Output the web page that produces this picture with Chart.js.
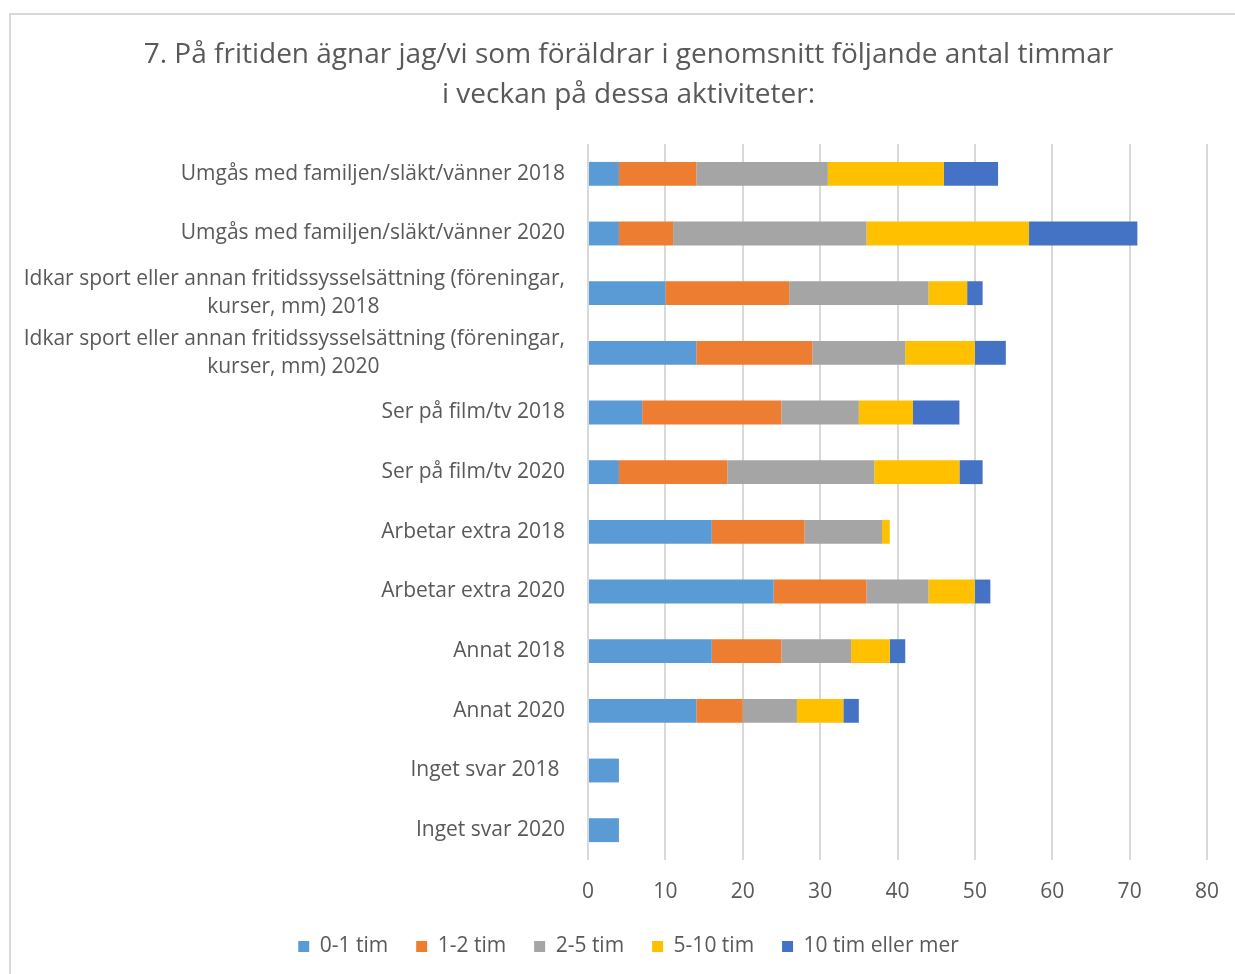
<!DOCTYPE html>
<html>
<head>
<meta charset="utf-8">
<script src="https://cdn.jsdelivr.net/npm/chart.js@4.4.1/dist/chart.umd.min.js"></script>
<style>
  html, body { margin: 0; padding: 0; background: #fff; }
  #wrap { position: relative; width: 1235px; height: 974px; overflow: hidden; }
  #frame { position: absolute; left: 9px; top: 13px; width: 1400px; height: 1200px;
           border-left: 2px solid #d9d9d9; border-top: 2px solid #d9d9d9; }
  canvas { position: absolute; left: 0; top: 0; }
</style>
</head>
<body>
<div id="wrap">
  <div id="frame"></div>
  <canvas id="chart" width="1235" height="974"></canvas>
</div>
<script>
const FONT = '"Open Sans", "Noto Sans", sans-serif';
const TEXT_COLOR = '#595959';

const titleLines = [
    '7. På fritiden ägnar jag/vi som föräldrar i genomsnitt följande antal timmar',
    'i veckan på dessa aktiviteter:'
];

const categories = [
    'Umgås med familjen/släkt/vänner 2018',
    'Umgås med familjen/släkt/vänner 2020',
    ['Idkar sport eller annan fritidssysselsättning (föreningar,', 'kurser, mm) 2018'],
    ['Idkar sport eller annan fritidssysselsättning (föreningar,', 'kurser, mm) 2020'],
    'Ser på film/tv 2018',
    'Ser på film/tv 2020',
    'Arbetar extra 2018',
    'Arbetar extra 2020',
    'Annat 2018',
    'Annat 2020',
    'Inget svar 2018 ',
    'Inget svar 2020'
];

const seriesNames = ['0-1 tim', '1-2 tim', '2-5 tim', '5-10 tim', '10 tim eller mer'];
const seriesColors = ['#5B9BD5', '#ED7D31', '#A5A5A5', '#FFC000', '#4472C4'];

const hours0to1 = [4, 4, 10, 14, 7, 4, 16, 24, 16, 14, 4, 4];
const hours1to2 = [10, 7, 16, 15, 18, 14, 12, 12, 9, 6, 0, 0];
const hours2to5 = [17, 25, 18, 12, 10, 19, 10, 8, 9, 7, 0, 0];
const hours5to10 = [15, 21, 5, 9, 7, 11, 1, 6, 5, 6, 0, 0];
const hours10plus = [7, 14, 2, 4, 6, 3, 0, 2, 2, 2, 0, 0];

const xTicks = [0, 10, 20, 30, 40, 50, 60, 70, 80];

const LABEL_SIZE = 21;

// Pad the shorter lines of a wrapped label so they sit centred under the longest one
const measureCtx = document.createElement('canvas').getContext('2d');
measureCtx.font = LABEL_SIZE + 'px ' + FONT;
function centreLines(label) {
    if (!Array.isArray(label)) return label;
    const widths = label.map(l => measureCtx.measureText(l).width);
    const maxW = Math.max(...widths);
    const spaceW = measureCtx.measureText(' ').width;
    return label.map((l, i) => l + ' '.repeat(Math.round((maxW - widths[i]) / 2 / spaceW)));
}

// Fixed legend height, and title + legend centred a bit right of the canvas middle
const boxTweaks = {
    id: 'boxTweaks',
    beforeInit(chart) {
        const fit = chart.legend.fit;
        chart.legend.fit = function () {
            fit.call(this);
            this.height = 66;
        };
    },
    afterLayout(chart) {
        chart.titleBlock.left = 50;
        chart.legend.left = 50;
    }
};

const stacks = [hours0to1, hours1to2, hours2to5, hours5to10, hours10plus];

new Chart(document.getElementById('chart').getContext('2d'), {
    type: 'bar',
    data: {
        labels: categories.map(centreLines),
        datasets: stacks.map((values, i) => ({
            label: seriesNames[i],
            data: values,
            backgroundColor: seriesColors[i],
            borderWidth: 0,
            barPercentage: 0.4,
            categoryPercentage: 1
        }))
    },
    options: {
        indexAxis: 'y',
        responsive: false,
        animation: false,
        layout: { padding: { left: 0, right: 28, top: 13, bottom: 0 } },
        scales: {
            x: {
                stacked: true,
                min: 0,
                max: 80,
                afterBuildTicks(scale) {
                    scale.ticks = xTicks.map(v => ({ value: v }));
                },
                afterFit(scale) {
                    scale.height = 48;
                    scale.paddingLeft = 0;
                    scale.paddingRight = 0;
                },
                grid: { color: '#d9d9d9', lineWidth: 2, drawTicks: false },
                border: { display: false },
                ticks: {
                    color: TEXT_COLOR,
                    padding: 19,
                    font: { family: FONT, size: LABEL_SIZE }
                }
            },
            y: {
                stacked: true,
                afterFit(scale) { scale.width = 588; },
                grid: { display: false, drawTicks: false },
                border: { display: false },
                ticks: {
                    color: TEXT_COLOR,
                    padding: 23,
                    autoSkip: false,
                    font: { family: FONT, size: LABEL_SIZE, lineHeight: 28 / LABEL_SIZE }
                }
            }
        },
        plugins: {
            title: {
                display: true,
                text: titleLines,
                color: TEXT_COLOR,
                font: { family: FONT, size: 28, weight: 'normal', lineHeight: 40 / 28 },
                padding: { top: 22, bottom: 29 }
            },
            legend: {
                position: 'bottom',
                labels: {
                    color: TEXT_COLOR,
                    boxWidth: 11,
                    boxHeight: 11,
                    padding: 28,
                    font: { family: FONT, size: LABEL_SIZE }
                }
            },
            tooltip: { enabled: false }
        }
    },
    plugins: [boxTweaks]
});
</script>
</body>
</html>
